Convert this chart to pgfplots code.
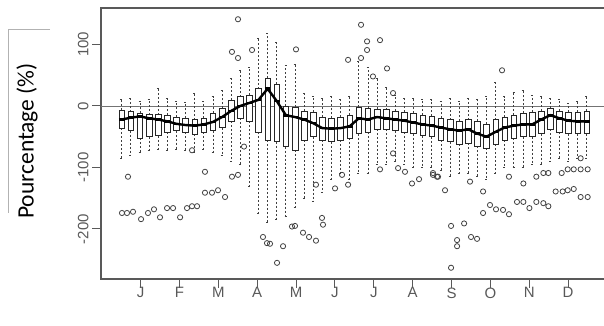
\documentclass[border=0pt]{standalone}
\usepackage{pgfplots}
\pgfplotsset{compat=1.18}
\usepgfplotslibrary{statistics}
\usepackage{fontspec}
\setmainfont{Liberation Sans}
\newfontfamily\labfont{Carlito}

\pgfplotsset{bx/.style={draw=black!85, line width=0.6pt, fill=white, solid,
  boxplot/draw direction=y,
  boxplot/box extend=0.62, boxplot/whisker extend=0.3,
  boxplot/every whisker/.style={draw=black!75, line width=0.8pt, dash pattern=on 2pt off 2pt},
  boxplot/every median/.style={line width=2.6pt, draw=black}}}
\newcommand{\bx}[6]{\addplot[bx, boxplot prepared={draw position=#1, median=#2, lower quartile=#3, upper quartile=#4, lower whisker=#5, upper whisker=#6}] coordinates {};}

\begin{document}
\begin{tikzpicture}[x=1pt,y=1pt]
\useasboundingbox (0,0) rectangle (604,326);
\begin{axis}[at={(101pt,47pt)}, anchor=south west, scale only axis,
  width=505pt, height=271pt,
  xmin=-1.27, xmax=54.1, ymin=-281.3, ymax=159.3,
  axis line style={draw=black!65, line width=1.3pt},
  tick style={draw=black!65, line width=1pt},
  tick align=outside, major tick length=9pt,
  xtick pos=lower, ytick pos=left,
  xtick={3.08,7.34,11.60,15.86,20.12,24.38,28.64,32.90,37.16,41.42,45.68,49.94},
  xticklabels={J,F,M,A,M,J,J,A,S,O,N,D},
  ytick={-200,-100,0,100},
  /pgf/number format/assume math mode=true,
  ticklabel style={font=\fontsize{15}{18}\selectfont, text=black!65},
  xticklabel style={yshift=4pt},
  yticklabel style={rotate=90, anchor=south},
]
\addplot[black!55, line width=0.9pt] coordinates {(-1.27,0) (54.1,0)};

\bx{1}{-22}{-36}{-7}{-85}{10}
\bx{2}{-19}{-40}{-9}{-80}{12}
\bx{3}{-17}{-52}{-12}{-75}{8}
\bx{4}{-20}{-50}{-14}{-72}{10}
\bx{5}{-22}{-48}{-14}{-70}{28}
\bx{6}{-25}{-42}{-15}{-72}{12}
\bx{7}{-29}{-40}{-18}{-70}{8}
\bx{8}{-31}{-43}{-20}{-72}{6}
\bx{9}{-32}{-46}{-22}{-75}{20}
\bx{10}{-30}{-42}{-20}{-70}{8}
\bx{11}{-26}{-40}{-12}{-75}{15}
\bx{12}{-18}{-35}{-4}{-80}{25}
\bx{13}{-8}{-25}{10}{-90}{45}
\bx{14}{0}{-20}{15}{-95}{58}
\bx{15}{5}{-25}{18}{-130}{62}
\bx{16}{10}{-42}{28}{-175}{110}
\bx{17}{28}{-55}{45}{-190}{118}
\bx{18}{8}{-58}{35}{-185}{104}
\bx{19}{-15}{-66}{0}{-180}{66}
\bx{20}{-18}{-72}{-2}{-165}{68}
\bx{21}{-22}{-55}{-8}{-150}{20}
\bx{22}{-28}{-50}{-10}{-155}{15}
\bx{23}{-36}{-55}{-18}{-140}{12}
\bx{24}{-37}{-58}{-20}{-120}{16}
\bx{25}{-36}{-55}{-18}{-110}{10}
\bx{26}{-33}{-52}{-15}{-120}{15}
\bx{27}{-20}{-45}{-2}{-110}{72}
\bx{28}{-22}{-42}{-3}{-110}{62}
\bx{29}{-18}{-38}{-5}{-95}{45}
\bx{30}{-20}{-38}{-6}{-95}{30}
\bx{31}{-22}{-40}{-8}{-90}{18}
\bx{32}{-24}{-42}{-10}{-95}{12}
\bx{33}{-27}{-45}{-12}{-100}{12}
\bx{34}{-30}{-48}{-15}{-100}{10}
\bx{35}{-32}{-50}{-17}{-100}{10}
\bx{36}{-35}{-55}{-20}{-105}{8}
\bx{37}{-38}{-58}{-22}{-115}{12}
\bx{38}{-40}{-62}{-25}{-110}{8}
\bx{39}{-38}{-60}{-22}{-110}{12}
\bx{40}{-45}{-65}{-25}{-115}{10}
\bx{41}{-50}{-68}{-30}{-120}{15}
\bx{42}{-42}{-62}{-22}{-110}{38}
\bx{43}{-35}{-55}{-18}{-100}{15}
\bx{44}{-32}{-52}{-15}{-100}{22}
\bx{45}{-30}{-50}{-12}{-100}{25}
\bx{46}{-30}{-50}{-10}{-95}{18}
\bx{47}{-22}{-45}{-8}{-95}{15}
\bx{48}{-15}{-38}{-3}{-90}{12}
\bx{49}{-20}{-42}{-8}{-85}{10}
\bx{50}{-24}{-45}{-10}{-90}{5}
\bx{51}{-25}{-45}{-10}{-85}{8}
\bx{52}{-25}{-45}{-8}{-85}{15}

% median line
\addplot[black, line width=2.4pt, mark=none] coordinates {
(1,-22)(2,-19)(3,-17)(4,-20)(5,-22)(6,-25)(7,-29)(8,-31)(9,-32)(10,-30)
(11,-26)(12,-18)(13,-8)(14,0)(15,5)(16,10)(17,28)(18,8)(19,-15)(20,-18)
(21,-22)(22,-28)(23,-36)(24,-37)(25,-36)(26,-33)(27,-20)(28,-22)(29,-18)(30,-20)
(31,-22)(32,-24)(33,-27)(34,-30)(35,-32)(36,-35)(37,-38)(38,-40)(39,-38)(40,-45)
(41,-50)(42,-42)(43,-35)(44,-32)(45,-30)(46,-30)(47,-22)(48,-15)(49,-20)(50,-24)
(51,-25)(52,-25)};

% outliers
\addplot[only marks, mark=o, mark size=2.6pt, draw=black!75, line width=0.8pt] coordinates {
(1.69,-115)(1.03,-174)(1.58,-174)(2.24,-172)(3.12,-184)(3.88,-174)(4.54,-168)(5.20,-181)
(5.97,-166)(6.63,-166)(7.40,-181)(8.16,-166)(8.71,-163)(9.26,-163)(10.13,-141)(10.90,-141)
(11.56,-137)(12.33,-148)(10.13,-107)(13.09,-115)(13.75,-112)(8.71,-72)(14.41,-66)
(13.09,88)(13.75,78)(13.75,141)(15.29,91)
(16.49,-213)(16.93,-223)(17.26,-224)(18.03,-255)(18.69,-228)(19.67,-196)(20.0,-195)
(20.88,-206)(21.54,-213)(22.30,-219)(22.30,-128)(22.96,-182)(23.07,-193)(24.39,-134)
(25.16,-112)(25.82,-128)(29.32,-103)(30.75,-77)(31.30,-101)(32.06,-107)(32.83,-126)
(33.60,-119)(35.13,-112)(35.57,-115)
(20.11,92)(25.82,75)(27.24,132)(27.24,78)(27.90,105)(27.90,91)(28.55,48)(29.32,107)
(30.09,61)(30.75,21)
(35.13,-109)(35.68,-115)(36.45,-137)(37.11,-195)(37.11,-263)(37.77,-218)(37.77,-228)
(38.54,-191)(39.30,-213)(39.96,-216)(39.19,-123)(40.62,-139)(40.62,-174)(41.38,-161)
(42.04,-168)(42.81,-169)(43.46,-176)(43.46,-115)(44.34,-156)(45.04,-156)(45.04,-126)
(45.70,-166)(46.46,-156)(47.23,-158)(47.78,-163)(46.46,-115)(47.23,-109)(47.78,-109)
(48.58,-139)(49.35,-139)(49.90,-137)(50.56,-135)(49.24,-109)(49.90,-103)(50.56,-103)
(51.32,-103)(52.09,-103)(51.32,-148)(52.09,-148)(51.32,-85)(42.70,58)};
\end{axis}
\node[rotate=90, font=\labfont\fontsize{23.5}{28}\selectfont] at (27,185) {Pourcentage (\%)};
\draw[black!30, line width=0.6pt] (50,297) -- (8,297) -- (8,113);
\end{tikzpicture}
\end{document}
